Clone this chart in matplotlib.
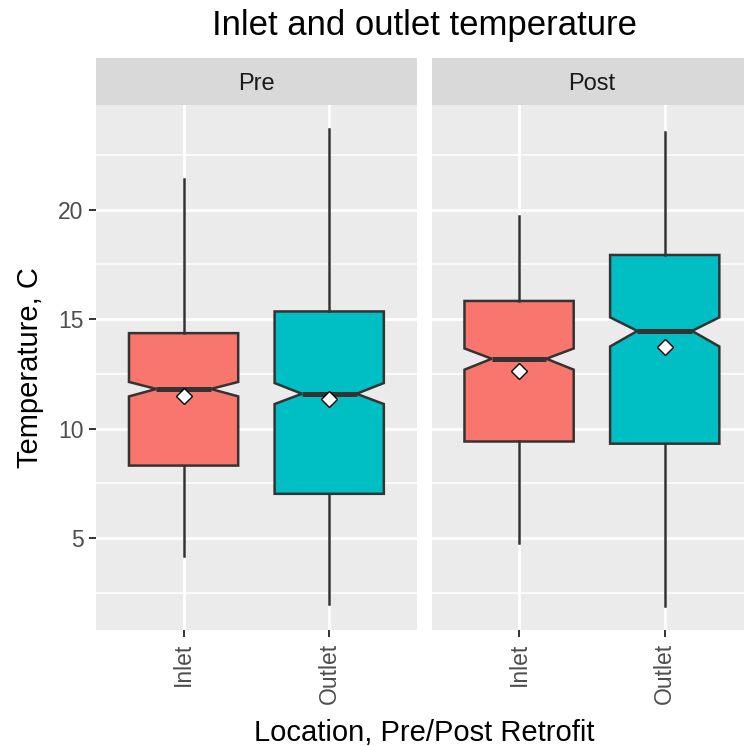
import matplotlib
matplotlib.use('Agg')
import matplotlib.pyplot as plt
from matplotlib.patches import Rectangle
from matplotlib.ticker import MultipleLocator

plt.rcParams['font.family'] = ['Liberation Sans', 'DejaVu Sans']

# summary statistics per facet, order: Inlet, Outlet
periods = ['Pre', 'Post']
locations = ['Inlet', 'Outlet']
whisker_lo = {'Pre': [4.20, 1.98], 'Post': [4.77, 1.89]}
q1 = {'Pre': [8.31, 7.02], 'Post': [9.41, 9.31]}
median = {'Pre': [11.81, 11.59], 'Post': [13.19, 14.46]}
q3 = {'Pre': [14.36, 15.35], 'Post': [15.83, 17.93]}
whisker_hi = {'Pre': [21.40, 23.69], 'Post': [19.73, 23.53]}
notch_lo = {'Pre': [11.47, 11.12], 'Post': [12.69, 13.75]}
notch_hi = {'Pre': [12.13, 12.08], 'Post': [13.66, 15.08]}
mean = {'Pre': [11.50, 11.35], 'Post': [12.61, 13.72]}
fills = ['#F8766D', '#00BFC4']

W, H = 744, 746
fig = plt.figure(figsize=(W / 100, H / 100), dpi=100)

panel_w = 320.4
panel_left = [96.2, 431.7]
panel_top, panel_bot = 105, 630
strip_h = 46.7

all_lo = min(min(v) for v in whisker_lo.values())
all_hi = max(max(v) for v in whisker_hi.values())
pad = 0.05 * (all_hi - all_lo)
ylim = (all_lo - pad, all_hi + pad)

axes = []
for i, period in enumerate(periods):
    ax = fig.add_axes([panel_left[i] / W, 1 - panel_bot / H,
                       panel_w / W, (panel_bot - panel_top) / H])
    axes.append(ax)
    ax.set_facecolor('#EBEBEB')
    for s in ax.spines.values():
        s.set_visible(False)

    stats = []
    for j in range(2):
        stats.append(dict(
            whislo=whisker_lo[period][j], q1=q1[period][j],
            med=median[period][j], q3=q3[period][j],
            whishi=whisker_hi[period][j],
            cilo=notch_lo[period][j], cihi=notch_hi[period][j],
            fliers=[]))
    bp = ax.bxp(stats, positions=[1, 2], widths=0.75, shownotches=True,
                patch_artist=True, showfliers=False, showcaps=False,
                manage_ticks=False,
                boxprops=dict(edgecolor='#333333', linewidth=1.8),
                whiskerprops=dict(color='#333333', linewidth=1.8),
                medianprops=dict(color='#333333', linewidth=3.6,
                                 solid_capstyle='butt'))
    for patch, c in zip(bp['boxes'], fills):
        patch.set_facecolor(c)
    ax.plot([1, 2], mean[period], linestyle='none', marker='D',
            markersize=8.5, markerfacecolor='white',
            markeredgecolor='black', markeredgewidth=1.0, zorder=5)

    ax.set_xlim(0.4, 2.6)
    ax.set_ylim(*ylim)
    ax.yaxis.set_major_locator(MultipleLocator(5))
    ax.yaxis.set_minor_locator(MultipleLocator(2.5))
    ax.set_xticks([1, 2])
    ax.set_xticklabels(locations, rotation=90)
    ax.grid(which='major', color='white', linewidth=1.95)
    ax.grid(which='minor', axis='y', color='white', linewidth=1.1)
    ax.set_axisbelow(True)
    ax.tick_params(which='major', length=5, width=1.4, color='#333333',
                   labelcolor='#4D4D4D', labelsize=16.5, pad=4)
    ax.tick_params(which='minor', length=0)
    if i > 0:
        ax.tick_params(axis='y', left=False, labelleft=False)

    # facet strip
    ax.add_patch(Rectangle((0, 1), 1, strip_h / (panel_bot - panel_top),
                           transform=ax.transAxes, facecolor='#D9D9D9',
                           edgecolor='none', clip_on=False))
    ax.text(0.5, 1 + strip_h / 2 / (panel_bot - panel_top), period,
            transform=ax.transAxes, ha='center', va='center_baseline',
            fontsize=17, color='#1A1A1A')

axes[0].set_ylabel('Temperature, C', fontsize=21, labelpad=10)

centre = (panel_left[0] + panel_left[1] + panel_w) / 2 / W
fig.text(centre, 1 - 35 / H, 'Inlet and outlet temperature',
         ha='center', va='baseline', fontsize=25)
fig.text(centre, 1 - 741 / H, 'Location, Pre/Post Retrofit',
         ha='center', va='baseline', fontsize=21)

fig.savefig('out.png', dpi=100)
